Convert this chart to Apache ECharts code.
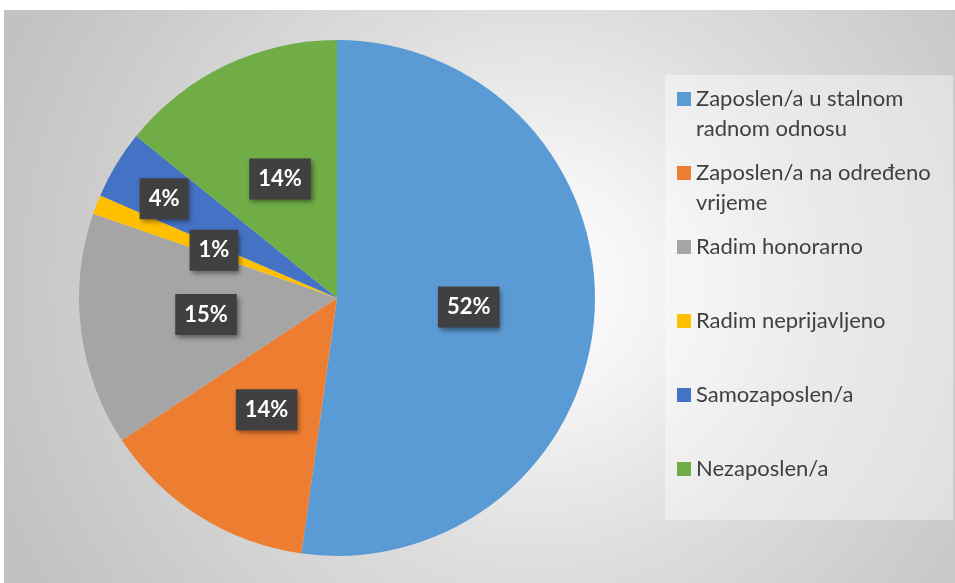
<!DOCTYPE html>
<html lang="sr">
<head>
<meta charset="UTF-8">
<title>Radni status</title>
<style>
  html, body { margin: 0; padding: 0; background: #fff; }
  #chart { width: 955px; height: 583px; }
</style>
</head>
<body>
<div id="chart"></div>
<script src="https://cdn.jsdelivr.net/npm/echarts@6/dist/echarts.min.js"></script>
<script>
var categories = [
    'Zaposlen/a u stalnom radnom odnosu',
    'Zaposlen/a na određeno vrijeme',
    'Radim honorarno',
    'Radim neprijavljeno',
    'Samozaposlen/a',
    'Nezaposlen/a'
];
var shares = [52.2, 13.5, 14.6, 1.2, 4.3, 14.2];
var colors = ['#5b9bd5', '#ed7d31', '#a5a5a5', '#ffc000', '#4472c4', '#70ad47'];

// the label of the thin "Samozaposlen/a" slice sits further out, like in the original
var labelShift = { 4: [-60, -31] };

// every legend entry gets two lines so the marker lines up with the first one
function wrapLegend(name) {
    var lines = [''];
    name.split(' ').forEach(function (w) {
        var cur = lines[lines.length - 1];
        if (cur && (cur + ' ' + w).length > 22) {
            lines.push(w);
        } else {
            lines[lines.length - 1] = cur ? cur + ' ' + w : w;
        }
    });
    if (lines.length < 2) {
        lines.push('');
    }
    return lines.join('\n');
}

var chart = echarts.init(document.getElementById('chart'));

var pieData = categories.map(function (name, i) {
    return { name: name, value: shares[i], itemStyle: { color: colors[i] } };
});

var option = {
    animation: false,
    backgroundColor: '#ffffff',
    graphic: [
        {
            type: 'rect',
            z: 0,
            silent: true,
            shape: { x: 4, y: 10, width: 951, height: 573 },
            style: {
                fill: {
                    type: 'radial', x: 0.56, y: 0.48, r: 1.0,
                    colorStops: [
                        { offset: 0, color: '#ffffff' },
                        { offset: 0.2, color: '#f4f4f4' },
                        { offset: 0.5, color: '#dddddd' },
                        { offset: 0.8, color: '#cccccc' },
                        { offset: 1, color: '#c2c2c2' }
                    ]
                }
            }
        },
        {
            type: 'rect',
            z: 1,
            silent: true,
            shape: { x: 665, y: 75, width: 288, height: 445 },
            style: { fill: 'rgba(255,255,255,0.4)' }
        }
    ],
    legend: {
        orient: 'vertical',
        left: 677,
        top: 84,
        padding: 0,
        itemGap: 14,
        itemWidth: 14,
        itemHeight: 56,
        icon: 'path://M0,0L0,0M0,6L14,6L14,20L0,20ZM14,56L14,56',
        selectedMode: false,
        formatter: wrapLegend,
        textStyle: {
            color: '#404040',
            fontFamily: 'Lato',
            fontSize: 22,
            lineHeight: 30
        },
        data: categories
    },
    series: [
        {
            type: 'pie',
            center: [337, 298],
            radius: 258,
            startAngle: 90,
            clockwise: true,
            percentPrecision: 0,
            avoidLabelOverlap: false,
            silent: true,
            itemStyle: { borderWidth: 0 },
            label: {
                show: true,
                position: 'inside',
                formatter: '{d}%',
                color: '#ffffff',
                fontFamily: 'Lato',
                fontWeight: 'bold',
                fontSize: 22,
                lineHeight: 23,
                backgroundColor: '#404040',
                padding: [9, 9],
                shadowColor: 'rgba(0,0,0,0.45)',
                shadowBlur: 5,
                shadowOffsetX: 2,
                shadowOffsetY: 3
            },
            labelLine: { show: false },
            labelLayout: function (params) {
                var s = labelShift[params.dataIndex];
                if (s) {
                    return { dx: s[0], dy: s[1] };
                }
            },
            emphasis: { disabled: true },
            data: pieData
        }
    ]
};

chart.setOption(option);
</script>
</body>
</html>
